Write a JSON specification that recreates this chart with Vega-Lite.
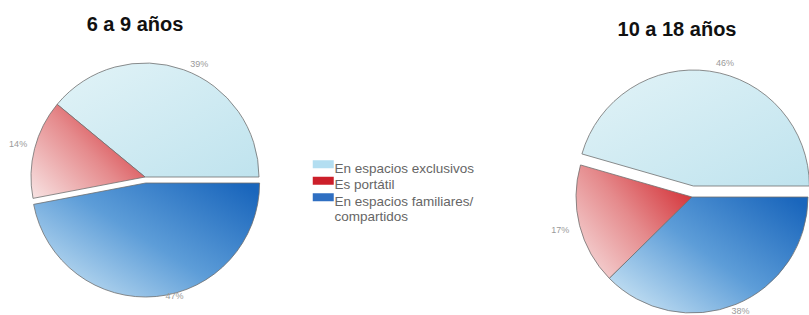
{
  "$schema": "https://vega.github.io/schema/vega-lite/v6.json",
  "padding": {"top": 15, "left": 0, "right": 0, "bottom": 0},
  "spacing": 261,
  "config": {"view": {"stroke": null}, "font": "Liberation Sans"},
  "resolve": {"scale": {"theta": "independent"}},
  "datasets": {
    "pies": [
      {"grupo": "6 a 9 años", "categoria": "En espacios exclusivos", "porcentaje": 0.39, "orden": 3},
      {"grupo": "6 a 9 años", "categoria": "Es portátil", "porcentaje": 0.14, "orden": 2},
      {"grupo": "6 a 9 años", "categoria": "En espacios familiares/ compartidos", "porcentaje": 0.47, "orden": 1},
      {"grupo": "10 a 18 años", "categoria": "En espacios exclusivos", "porcentaje": 0.46, "orden": 3},
      {"grupo": "10 a 18 años", "categoria": "Es portátil", "porcentaje": 0.17, "orden": 2},
      {"grupo": "10 a 18 años", "categoria": "En espacios familiares/ compartidos", "porcentaje": 0.38, "orden": 1}
    ]
  },
  "hconcat": [
    {
      "width": 290,
      "height": 196,
      "title": {"text": "6 a 9 años", "fontSize": 20, "fontWeight": "bold", "color": "#111111", "font": "Liberation Sans", "anchor": "middle", "offset": 14.3, "dx": -10},
      "data": {"name": "pies"},
      "transform": [{"filter": "datum.grupo === '6 a 9 años'"}],
      "encoding": {
        "theta": {"field": "porcentaje", "type": "quantitative", "stack": true, "scale": {"range": [1.5707963, 7.8539816]}},
        "order": {"field": "orden", "type": "quantitative"}
      },
      "layer": [
        {
          "mark": {"type": "arc", "outerRadius": 114, "opacity": 0},
          "encoding": {
            "color": {
              "field": "categoria",
              "type": "nominal",
              "scale": {"domain": ["En espacios exclusivos", "Es portátil", "En espacios familiares/ compartidos"], "range": ["#b3def1", "#cc1f2a", "#2f6fc2"]},
              "legend": {
                "orient": "none",
                "legendX": 316.5,
                "legendY": 83,
                "title": null,
                "padding": 0,
                "labelFontSize": 13.5,
                "labelColor": "#666666",
                "labelFont": "Liberation Sans",
                "labelLimit": 300,
                "labelOffset": 4.5,
                "rowPadding": 0.5,
                "symbolType": "M-2.625,-2.125H2.625V-0.125H-2.625Z",
                "symbolSize": 64,
                "symbolStrokeWidth": 0,
                "symbolOpacity": 1,
                "labelExpr": "datum.label === 'En espacios familiares/ compartidos' ? ['En espacios familiares/', 'compartidos'] : datum.label",
                "encode": {"symbols": {"update": {"opacity": {"value": 1}, "fillOpacity": {"value": 1}}}}
              }
            }
          }
        },
        {
          "encoding": {
            "fill": {
              "condition": [
                {"test": "datum.categoria === 'Es portátil'", "value": {"gradient": "linear", "x1": 0, "y1": 1, "x2": 1, "y2": 0.2, "stops": [{"offset": 0, "color": "#f8e4e4"}, {"offset": 0.55, "color": "#e58a8c"}, {"offset": 1, "color": "#d32f35"}]}},
                {"test": "datum.categoria === 'En espacios exclusivos'", "value": {"gradient": "linear", "x1": 0, "y1": 0, "x2": 1, "y2": 1, "stops": [{"offset": 0, "color": "#e2f3f7"}, {"offset": 1, "color": "#bfe3ee"}]}}
              ],
              "value": {"gradient": "linear", "x1": 0, "y1": 0.9, "x2": 1, "y2": 0.1, "stops": [{"offset": 0, "color": "#cde6f5"}, {"offset": 0.5, "color": "#5d9dd8"}, {"offset": 1, "color": "#1a66bc"}]}
            }
          },
          "layer": [
            {
              "mark": {"type": "arc", "outerRadius": 114, "stroke": "#707070", "strokeWidth": 0.8},
              "encoding": {"opacity": {"condition": {"test": "datum.categoria === 'En espacios familiares/ compartidos'", "value": 0}, "value": 1}}
            },
            {
              "mark": {"type": "arc", "outerRadius": 114, "stroke": "#707070", "strokeWidth": 0.8, "xOffset": 0.6, "yOffset": 6},
              "encoding": {"opacity": {"condition": {"test": "datum.categoria === 'En espacios familiares/ compartidos'", "value": 1}, "value": 0}}
            }
          ]
        },
        {
          "mark": {"type": "text", "radius": 125, "fontSize": 9, "color": "#9a9a9a", "dx": 12, "dy": 5},
          "encoding": {
            "text": {"field": "porcentaje", "type": "quantitative", "format": ".0%"},
            "opacity": {"condition": {"test": "datum.categoria === 'En espacios exclusivos'", "value": 1}, "value": 0}
          }
        },
        {
          "mark": {"type": "text", "radius": 131, "fontSize": 9, "color": "#9a9a9a"},
          "encoding": {
            "text": {"field": "porcentaje", "type": "quantitative", "format": ".0%"},
            "opacity": {"condition": {"test": "datum.categoria === 'Es portátil'", "value": 1}, "value": 0}
          }
        },
        {
          "mark": {"type": "text", "radius": 116, "fontSize": 9, "color": "#9a9a9a", "xOffset": 0.6, "yOffset": 6, "dx": 18, "dy": -2},
          "encoding": {
            "text": {"field": "porcentaje", "type": "quantitative", "format": ".0%"},
            "opacity": {"condition": {"test": "datum.categoria === 'En espacios familiares/ compartidos'", "value": 1}, "value": 0}
          }
        }
      ]
    },
    {
      "width": 236,
      "height": 236,
      "title": {"text": "10 a 18 años", "fontSize": 20, "fontWeight": "bold", "color": "#111111", "font": "Liberation Sans", "anchor": "middle", "offset": 18.4, "dx": -15},
      "data": {"name": "pies"},
      "transform": [{"filter": "datum.grupo === '10 a 18 años'"}],
      "encoding": {
        "theta": {"field": "porcentaje", "type": "quantitative", "stack": true, "scale": {"range": [1.5707963, 7.8539816]}},
        "order": {"field": "orden", "type": "quantitative"}
      },
      "layer": [
        {
          "encoding": {
            "fill": {
              "condition": [
                {"test": "datum.categoria === 'Es portátil'", "value": {"gradient": "linear", "x1": 0, "y1": 1, "x2": 1, "y2": 0.2, "stops": [{"offset": 0, "color": "#f8e4e4"}, {"offset": 0.55, "color": "#e58a8c"}, {"offset": 1, "color": "#d32f35"}]}},
                {"test": "datum.categoria === 'En espacios exclusivos'", "value": {"gradient": "linear", "x1": 0, "y1": 0, "x2": 1, "y2": 1, "stops": [{"offset": 0, "color": "#e2f3f7"}, {"offset": 1, "color": "#bfe3ee"}]}}
              ],
              "value": {"gradient": "linear", "x1": 0, "y1": 0.9, "x2": 1, "y2": 0.1, "stops": [{"offset": 0, "color": "#cde6f5"}, {"offset": 0.5, "color": "#5d9dd8"}, {"offset": 1, "color": "#1a66bc"}]}
            }
          },
          "layer": [
            {
              "mark": {"type": "arc", "outerRadius": 116, "stroke": "#707070", "strokeWidth": 0.8},
              "encoding": {"opacity": {"condition": {"test": "datum.categoria === 'En espacios exclusivos'", "value": 0}, "value": 1}}
            },
            {
              "mark": {"type": "arc", "outerRadius": 116, "stroke": "#707070", "strokeWidth": 0.8, "xOffset": 1.4, "yOffset": -11},
              "encoding": {"opacity": {"condition": {"test": "datum.categoria === 'En espacios exclusivos'", "value": 1}, "value": 0}}
            }
          ]
        },
        {
          "mark": {"type": "text", "radius": 126, "fontSize": 9, "color": "#9a9a9a", "xOffset": 1.4, "yOffset": -11, "dx": 14, "dy": 2},
          "encoding": {
            "text": {"field": "porcentaje", "type": "quantitative", "format": ".0%"},
            "opacity": {"condition": {"test": "datum.categoria === 'En espacios exclusivos'", "value": 1}, "value": 0}
          }
        },
        {
          "mark": {"type": "text", "radius": 136, "fontSize": 9, "color": "#9a9a9a"},
          "encoding": {
            "text": {"field": "porcentaje", "type": "quantitative", "format": ".0%"},
            "opacity": {"condition": {"test": "datum.categoria === 'Es portátil'", "value": 1}, "value": 0}
          }
        },
        {
          "mark": {"type": "text", "radius": 120, "fontSize": 9, "color": "#9a9a9a", "dx": 3, "dy": 3},
          "encoding": {
            "text": {"field": "porcentaje", "type": "quantitative", "format": ".0%"},
            "opacity": {"condition": {"test": "datum.categoria === 'En espacios familiares/ compartidos'", "value": 1}, "value": 0}
          }
        }
      ]
    }
  ]
}
